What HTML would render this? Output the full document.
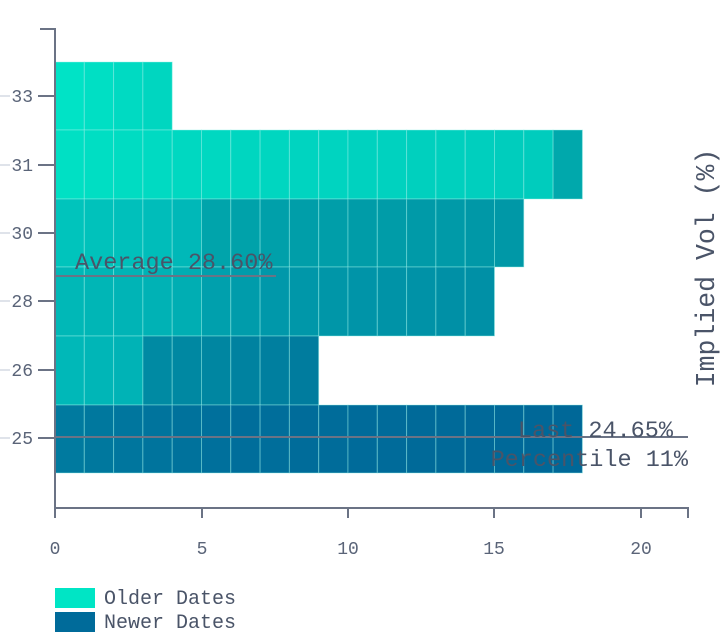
<!DOCTYPE html>
<html><head><meta charset="utf-8"><style>
html,body{margin:0;padding:0;background:#fff;width:720px;height:638px;overflow:hidden}
svg text{font-family:"Liberation Mono","DejaVu Sans Mono",monospace;fill:#5a6478}
</style></head><body>
<svg id="s" width="720" height="638" xmlns="http://www.w3.org/2000/svg">
<g id="bars"></g>
<g stroke="#6b7385" stroke-width="2" fill="none">
<path d="M40 29 H55 V508 H688 V518"/>
<path d="M55 508 V518 M202 508 V518 M348 508 V518 M494 508 V518 M641 508 V518"/>
<path d="M38 96 H55 M38 165 H55 M38 233 H55 M38 301 H55 M38 370 H55 M38 438 H55"/>
</g>
<g stroke="#dfe3ea" stroke-width="2">
<path d="M0 96 H10 M0 165 H10 M0 233 H10 M0 301 H10 M0 370 H10 M0 438 H10"/>
</g>
<g font-size="18" text-anchor="end">
<text x="33" y="102">33</text><text x="33" y="171">31</text><text x="33" y="239">30</text>
<text x="33" y="307">28</text><text x="33" y="376">26</text><text x="33" y="444">25</text>
</g>
<g font-size="18" text-anchor="middle">
<text x="55" y="554">0</text><text x="202" y="554">5</text><text x="348" y="554">10</text>
<text x="494" y="554">15</text><text x="641" y="554">20</text>
</g>
<line x1="55" y1="276" x2="276" y2="276" stroke="#6b7385" stroke-width="2"/>
<text x="75" y="269" font-size="23.5" style="fill:#4a5468">Average 28.60%</text>
<line x1="55" y1="437" x2="688" y2="437" stroke="#6b7385" stroke-width="2"/>
<text x="673" y="437" font-size="23.5" text-anchor="end" style="fill:#4a5468">Last 24.65%</text>
<text x="688" y="466" font-size="23.5" text-anchor="end" style="fill:#4a5468">Percentile 11%</text>
<text transform="translate(714,268) rotate(-90)" font-size="26.5" text-anchor="middle" style="fill:#4a5468">Implied Vol (%)</text>
<rect x="55" y="588" width="40" height="20" fill="#00e5c5"/>
<rect x="55" y="612" width="40" height="20" fill="#006b9a"/>
<text x="104" y="604" font-size="20" style="fill:#4a5468">Older Dates</text>
<text x="104" y="628" font-size="20" style="fill:#4a5468">Newer Dates</text>
</svg>
<script>
var u=29.3,x0=55;
var rows=[
[62,130,["#00e3c6","#00dfc4","#00dac2","#00d6c0"]],
[130,199,"#00e0c4,#00dec3,#00dcc2,#00dac2,#00d8c1,#00d8c1,#00d6c0,#00d6c0,#00d4c0,#00d4c0,#00d2bf,#00d2bf,#00d0be,#00d0be,#00cfbe,#00cdbd,#00ccbd,#00a8ac".split(",")],
[199,267,"#00c4bc,#00c2bb,#00c0bb,#00bdba,#00b8b8,#00a4ab,#00a2aa,#00a0aa,#009ea9,#009ea9,#009ca8,#009ca8,#009aa8,#009aa8,#0098a7,#0098a7".split(",")],
[267,336,"#00b8b7,#00b6b6,#00b4b6,#00b2b5,#00aeb3,#00a0ad,#009cab,#0098aa,#0097a9,#0096a8,#0094a8,#0093a7,#0092a7,#0090a6,#0090a6".split(",")],
[336,405,"#00b8b8,#00b6b7,#00b3b6,#008aa3,#0088a2,#0086a1,#0082a0,#007f9f,#007c9e".split(",")],
[405,473,"#007a9f,#00789e,#00769e,#00749d,#00729c,#00709c,#006e9b,#006e9b,#006c9a,#006c9a,#006b9a,#006b9a,#006a99,#006a99,#006999,#006999,#006898,#006898".split(",")]
];
var g=document.getElementById("bars"),h="";
rows.forEach(function(r){r[2].forEach(function(c,i){
h+='<rect x="'+(x0+i*u)+'" y="'+r[0]+'" width="'+u+'" height="'+(r[1]-r[0])+'" fill="'+c+'" stroke="rgba(150,240,230,0.45)" stroke-width="1"/>';});});
g.innerHTML=h;
</script>
</body></html>
